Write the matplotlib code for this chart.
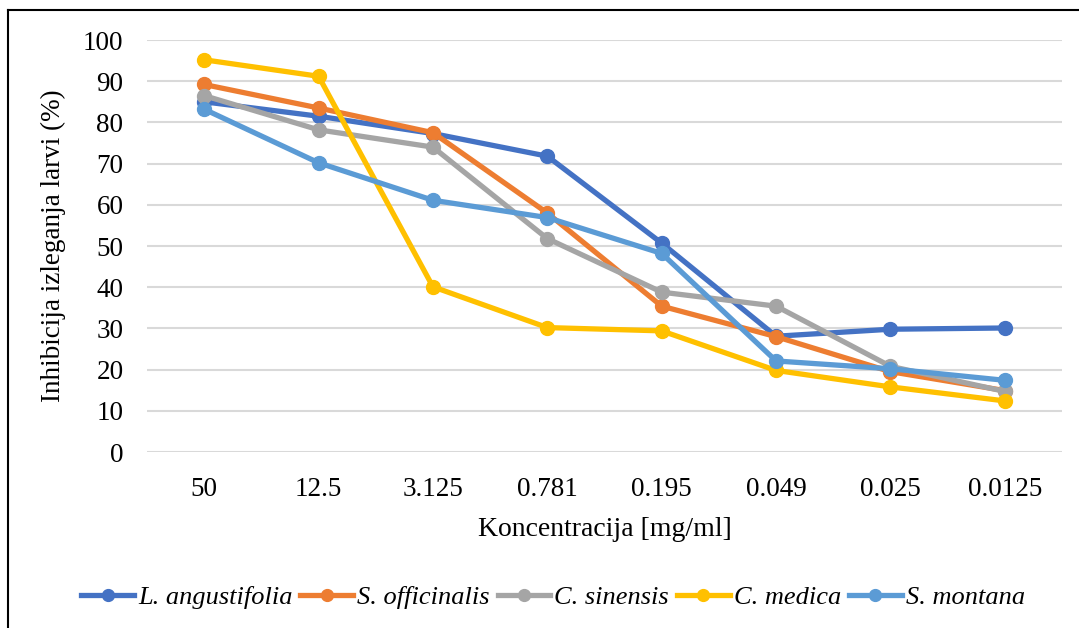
import matplotlib
matplotlib.use("Agg")
import matplotlib.pyplot as plt
from matplotlib.lines import Line2D

# Concentrations (mg/ml) and larval hatching inhibition (%) per extract
concentrations = ["50", "12.5", "3.125", "0.781", "0.195", "0.049", "0.025", "0.0125"]
l_angustifolia = [85.0, 81.5, 77.3, 71.8, 50.7, 28.1, 29.8, 30.1]
s_officinalis = [89.2, 83.5, 77.5, 58.0, 35.4, 28.0, 19.5, 14.9]
c_sinensis = [86.5, 78.2, 74.0, 51.8, 38.8, 35.4, 20.8, 14.7]
c_medica = [95.2, 91.2, 40.1, 30.2, 29.4, 19.8, 15.8, 12.4]
s_montana = [83.2, 70.2, 61.1, 56.9, 48.2, 22.1, 20.2, 17.4]

series_names = ["L. angustifolia", "S. officinalis", "C. sinensis", "C. medica", "S. montana"]
series_values = [l_angustifolia, s_officinalis, c_sinensis, c_medica, s_montana]
colors = ["#4472C4", "#ED7D31", "#A5A5A5", "#FFC000", "#5B9BD5"]

plt.rcParams["font.family"] = ["Liberation Serif", "DejaVu Serif"]

W, H = 1079, 628
fig = plt.figure(figsize=(W / 100, H / 100), dpi=100)
ax = fig.add_axes([147 / W, 1 - 452 / H, (1062 - 147) / W, (452 - 40) / H])

x = list(range(len(concentrations)))
for name, vals, col in zip(series_names, series_values, colors):
    ax.plot(x, vals, color=col, lw=3.8, marker="o", ms=10,
            solid_capstyle="round", solid_joinstyle="round", label=name)

ax.set_xlim(-0.5, len(concentrations) - 0.5)
ax.set_ylim(0, 100)
ax.set_yticks(range(0, 101, 10))
ax.set_xticks(x)
ax.set_xticklabels(concentrations)
ax.tick_params(axis="both", length=0, labelsize=19.5)
ax.tick_params(axis="y", pad=17)
ax.tick_params(axis="x", pad=18)
for s in ax.spines.values():
    s.set_visible(False)
ax.grid(axis="y", color="#D9D9D9", lw=1.5)
ax.set_axisbelow(True)

ax.set_xlabel("Koncentracija [mg/ml]", fontsize=20, labelpad=11)
ax.set_ylabel("Inhibicija izleganja larvi (%)", fontsize=19.5, labelpad=12)

leg_handles = [Line2D([], [], color=c, lw=3.8, marker="o", ms=8.5) for c in colors]
fig.legend(leg_handles, series_names, loc="center", bbox_to_anchor=(553 / W, 1 - 597 / H),
           ncol=5, frameon=False, handlelength=2.0, handletextpad=0.15,
           columnspacing=0.3, prop={"size": 19, "style": "italic"})

# Outer frame: top and left edges
fig.add_artist(Line2D([8 / W, 1.0], [1 - 10 / H, 1 - 10 / H], color="black", lw=1.5,
                      transform=fig.transFigure))
fig.add_artist(Line2D([8 / W, 8 / W], [0.0, 1 - 10 / H], color="black", lw=1.5,
                      transform=fig.transFigure))

fig.savefig("out.png", dpi=100)
